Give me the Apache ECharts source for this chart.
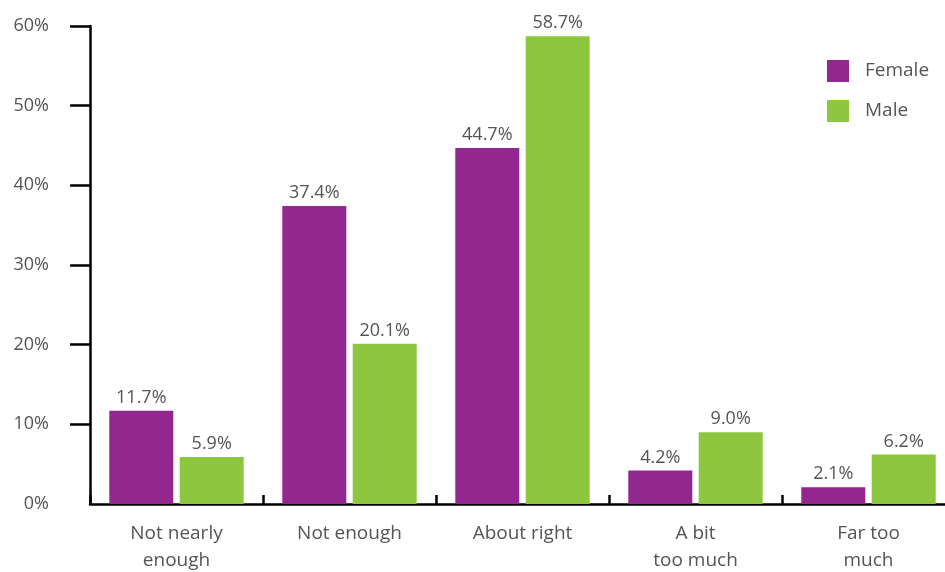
<!DOCTYPE html>
<html><head><meta charset="utf-8">
<script src="https://cdn.jsdelivr.net/npm/echarts@6/dist/echarts.min.js"></script>
<style>html,body{margin:0;padding:0;background:#fff}#c{width:945px;height:572px}</style>
</head><body><div id="c"></div>
<script>
const categories = ['Not nearly\nenough', 'Not enough', 'About right', 'A bit\ntoo much', 'Far too\nmuch'];
const female = [11.7, 37.4, 44.7, 4.2, 2.1];
const male = [5.9, 20.1, 58.7, 9.0, 6.2];
const seriesNames = ['Female', 'Male'];
const colors = ['#92278F', '#8DC63F'];
const yTicks = [0, 10, 20, 30, 40, 50, 60];

const font = '"Open Sans", Lato, sans-serif';
const chart = echarts.init(document.getElementById('c'));
const labelOpt = {
  show: true, position: 'top', distance: 4, color: '#555', fontSize: 18, fontFamily: font,
  formatter: p => p.value.toFixed(1) + '%'
};
chart.setOption({
  animation: false,
  textStyle: { fontFamily: font },
  grid: { left: 90, top: 26, bottom: 68, width: 865, containLabel: false, outerBoundsMode: 'none' },
  legend: {
    orient: 'vertical', left: 822, top: 55, itemWidth: 22, itemHeight: 22, itemGap: 18,
    icon: 'rect', data: seriesNames,
    textStyle: { fontSize: 19, color: '#555', fontFamily: font, padding: [0, 0, 0, 11] }
  },
  xAxis: {
    type: 'category', data: categories,
    axisLine: { lineStyle: { color: '#000', width: 2.5 } },
    axisTick: { show: true, inside: true, length: 9, interval: 0, lineStyle: { color: '#000', width: 2.5 } },
    axisLabel: { interval: 0, margin: 16, color: '#555', fontSize: 19, lineHeight: 27, fontFamily: font }
  },
  yAxis: {
    type: 'value', min: yTicks[0], max: yTicks[yTicks.length - 1], interval: 10,
    splitLine: { show: false },
    axisLine: { show: true, lineStyle: { color: '#000', width: 2.5 } },
    axisTick: { show: true, length: 20, customValues: yTicks.slice(1), lineStyle: { color: '#000', width: 2.5 } },
    axisLabel: { margin: 41, color: '#555', fontSize: 18, fontFamily: font, formatter: '{value}%' }
  },
  series: [
    { name: seriesNames[0], type: 'bar', data: female, barWidth: 64, barGap: '10%',
      itemStyle: { color: colors[0] }, label: labelOpt },
    { name: seriesNames[1], type: 'bar', data: male, barWidth: 64,
      itemStyle: { color: colors[1] }, label: labelOpt }
  ]
});
</script></body></html>
